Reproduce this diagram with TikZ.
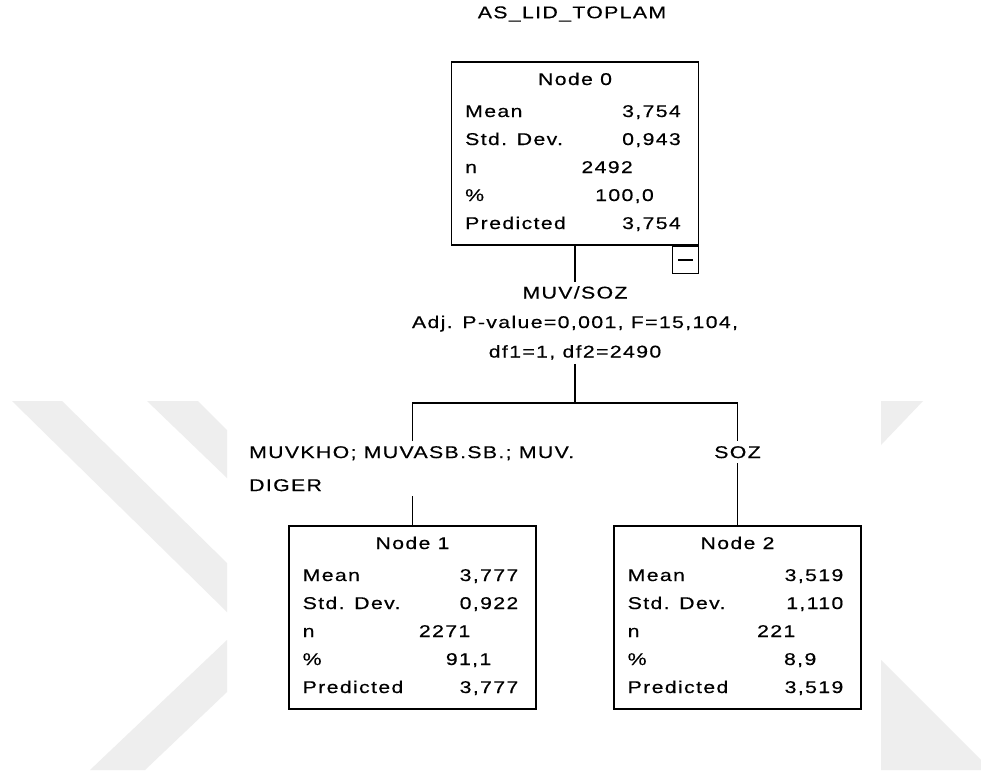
\documentclass[tikz,border=0pt]{standalone}
\usepackage{fontspec}
\newfontfamily\spssfont{Liberation Sans}[FakeStretch=1.25,LetterSpace=8,FakeBold=0.4]
\usepackage{tikz}
\usepackage{xcolor}
\usetikzlibrary{positioning}
\definecolor{wmgray}{RGB}{238,238,238}

% one box of the tree: name, centre x, top y, title, mean, sd, n, %, predicted
\newcommand{\statnode}[9]{%
  \node[statbox] (#1) at (#2,#3) {};
  \node[cell,anchor=base] (#1h) at (#2,#3+24) {#4};
  \node[cell,anchor=base west] (#1a) at (#2-110,#3+56) {Mean};
  \node[cell,anchor=base east] (#1av) at (#2+106,#3+56) {#5};
  \node[cell,anchor=base west] (#1b) at (#2-110,#3+84) {Std. Dev.};
  \node[cell,anchor=base east] (#1bv) at (#2+106,#3+84) {#6};
  \node[cell,anchor=base west] (#1c) at (#2-110,#3+112) {n};
  \node[cell,anchor=base east] (#1cv) at (#2+58,#3+112) {#7};
  \node[cell,anchor=base west] (#1d) at (#2-110,#3+140) {\%};
  \node[cell,anchor=base east] (#1dv) at (#2+79,#3+140) {#8};
  \node[cell,anchor=base west] (#1e) at (#2-110,#3+168) {Predicted};
  \node[cell,anchor=base east] (#1ev) at (#2+106,#3+168) {#9};
}

\begin{document}
\begin{tikzpicture}[x=1pt,y=-1pt,
  cell/.style={inner sep=0pt,font=\spssfont\fontsize{17}{20}\selectfont},
  statbox/.style={draw,line width=1.8pt,minimum width=247pt,minimum height=183pt,inner sep=0pt,anchor=north},
  minusbox/.style={draw,line width=1.4pt,minimum width=26pt,minimum height=27pt,inner sep=0pt},
  split/.style={inner sep=4pt,align=center,font=\spssfont\fontsize{17}{29.5}\selectfont},
  branch/.style={inner sep=5pt,font=\spssfont\fontsize{17}{33}\selectfont},
  link/.style={line width=1.4pt}]
\useasboundingbox (0,0) rectangle (981,776);
\fill[white] (0,0) rectangle (981,776);

% watermark
\fill[wmgray] (12,401) -- (62,401) -- (227,563) -- (227,612) -- cycle;
\fill[wmgray] (147,401) -- (198,401) -- (227,430) -- (227,478) -- cycle;
\fill[wmgray] (90,770) -- (145,770) -- (227,692) -- (227,640) -- cycle;
\fill[wmgray] (881,401) -- (923,401) -- (881,445) -- cycle;
\fill[wmgray] (881,660) -- (981,760) -- (981,770) -- (881,770) -- cycle;

\node[cell] (ttl) at (572,14) {AS\_LID\_TOPLAM};

\statnode{n0}{575}{61}{Node 0}{3,754}{0,943}{2492}{100,0}{3,754}
\node[minusbox,anchor=north east] (n0m) at (n0.south east) {\rule{15pt}{1.4pt}};

\node[split,anchor=north] (sp) at (575,282) {MUV/SOZ\\Adj. P-value=0,001, F=15,104,\\df1=1, df2=2490};
\coordinate (fork) at (575,403);

\node[branch,anchor=north west,align=left] (b1) at (244,441) {MUVKHO; MUVASB.SB.; MUV.\\DIGER};
\node[branch,anchor=north] (b2) at (737.5,441) {SOZ};

\statnode{n1}{412.5}{525}{Node 1}{3,777}{0,922}{2271}{91,1}{3,777}
\statnode{n2}{737.5}{525}{Node 2}{3,519}{1,110}{221}{8,9}{3,519}

\draw[link] (n0.south) -- (sp.north);
\draw[link] (sp.south) -- (fork);
\draw[link] (n1.north |- b1.north) |- (fork) -| (b2.north);
\draw[link] (n1.north |- b1.south) -- (n1.north);
\draw[link] (b2.south) -- (n2.north);
\end{tikzpicture}
\end{document}
